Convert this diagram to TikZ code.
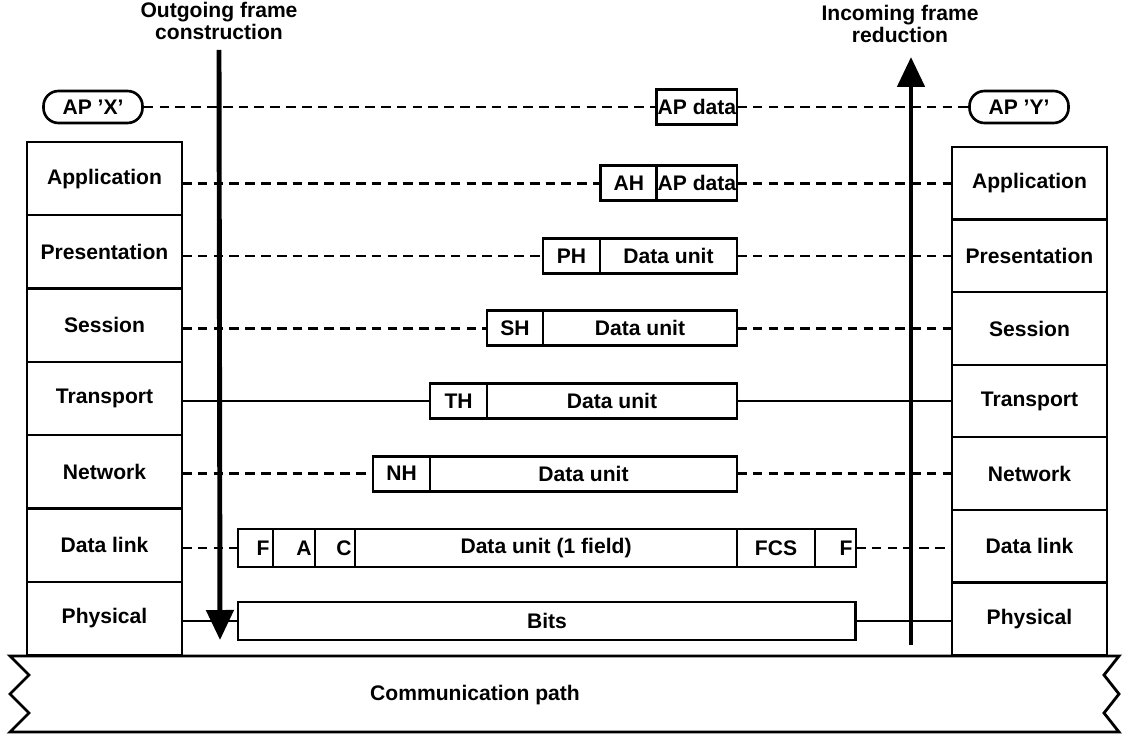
\documentclass[tikz,border=0pt]{standalone}
\usepackage{fontspec}
\setmainfont{Liberation Sans}
\usetikzlibrary{arrows.meta,positioning}

\begin{document}
\begin{tikzpicture}[
    x=0.02cm, y=-0.02cm,
    font=\fontsize{12}{14}\selectfont\bfseries,
    capa/.style={
      draw, line width=1.3pt, outer sep=0pt, inner sep=0pt,
      minimum width=3.1cm, minimum height=1.466cm
    },
    capad/.style={capa, minimum height=1.452cm},
    campo/.style={
      draw, line width=1.6pt, outer sep=0pt, inner xsep=1pt, inner ysep=0pt,
      minimum height=0.7cm
    },
    enlcampo/.style={campo, minimum height=0.76cm},
    cabder/.style={enlcampo, align=right, inner xsep=2pt},
    ap/.style={
      draw, line width=1.5pt, rounded corners=0.3cm,
      minimum width=1.98cm, minimum height=0.64cm, inner sep=0pt
    },
    enlace/.style={dash pattern=on 5.5pt off 3.5pt, line width=1.4pt},
    fisico/.style={line width=1pt},
    flecha/.style={line width=2.8pt, -{Triangle[width=0.54cm,length=0.6cm]}},
    etiq/.style={align=center, inner sep=0pt,
      font=\fontsize{12}{10.5}\selectfont\bfseries}
  ]
    \useasboundingbox (0,0) rectangle (1122,736);

    % --- Etiquetas superiores ---
    \node[etiq] (salida) at (219,21) {Outgoing frame\\construction};
    \node[etiq] (entrada) at (900,24) {Incoming frame\\reduction};

    % --- Pila izquierda ---
    \node[capa] (Lapp) at (104.5,178.7) {Application};
    \node[capa, below=0pt of Lapp] (Lpres) {Presentation};
    \node[capa, below=0pt of Lpres] (Lses) {Session};
    \node[capa, below=0pt of Lses] (Ltra) {Transport};
    \node[capa, below=0pt of Ltra] (Lred) {Network};
    \node[capa, below=0pt of Lred] (Lenl) {Data link};
    \node[capa, below=0pt of Lenl] (Lfis) {Physical};

    % --- Pila derecha ---
    \node[capad] (Rapp) at (1029.5,183.3) {Application};
    \node[capad, below=0pt of Rapp] (Rpres) {Presentation};
    \node[capad, below=0pt of Rpres] (Rses) {Session};
    \node[capad, below=0pt of Rses] (Rtra) {Transport};
    \node[capad, below=0pt of Rtra] (Rred) {Network};
    \node[capad, below=0pt of Rred] (Renl) {Data link};
    \node[capad, below=0pt of Renl] (Rfis) {Physical};

    % --- Procesos de aplicación ---
    \node[ap] (apx) at (93,107) {AP 'X'};
    \node[ap] (apy) at (1019,107) {AP 'Y'};

    % --- Unidades de datos ---
    \node[campo, anchor=east, inner xsep=0.5pt, minimum width=1.6cm] (apd0)
      at (737,107) {AP data};

    \node[campo, anchor=east, inner xsep=0.5pt, minimum width=1.6cm] (apd1)
      at (737,183.3) {AP data};
    \node[campo, left=0pt of apd1, minimum width=1.12cm] (ah) {AH};

    \node[campo, anchor=east, minimum width=2.74cm] (du2)
      at (737,255.9) {Data unit};
    \node[campo, left=0pt of du2, minimum width=1.14cm] (ph) {PH};

    \node[campo, anchor=east, minimum width=3.88cm] (du3)
      at (737,328.4) {Data unit};
    \node[campo, left=0pt of du3, minimum width=1.12cm] (sh) {SH};

    \node[campo, anchor=east, minimum width=5cm] (du4)
      at (737,401) {Data unit};
    \node[campo, left=0pt of du4, minimum width=1.14cm] (th) {TH};

    \node[campo, anchor=east, minimum width=6.14cm] (du5)
      at (737,473.6) {Data unit};
    \node[campo, left=0pt of du5, minimum width=1.14cm] (nh) {NH};

    % --- Trama de enlace ---
    \node[enlcampo, anchor=east, minimum width=7.64cm] (du6)
      at (737,548) {Data unit (1 field)};
    \node[cabder, left=0pt of du6, text width=18.8pt] (ctl) {C};
    \node[cabder, left=0pt of ctl, text width=19.9pt] (dir) {A};
    \node[cabder, left=0pt of dir, text width=15.9pt] (fa) {F};
    \node[enlcampo, right=0pt of du6, minimum width=1.56cm] (fcs) {FCS};
    \node[cabder, right=0pt of fcs, text width=19.3pt] (fb) {F};

    \node[enlcampo, anchor=west, minimum width=12.36cm] (bits)
      at (238,621) {Bits};

    % --- Camino de comunicación ---
    \draw[line width=1.6pt] (10,656) -- (1119,656) -- (1104,675) -- (1119,694)
      -- (1104,713) -- (1119,732) -- (10,732) -- (29,713) -- (10,694)
      -- (29,675) -- cycle;
    \node (camino) at (475,695) {Communication path};

    % --- Enlaces entre pares ---
    \draw[enlace] (apx.east) -- (apd0.west);
    \draw[enlace] (apd0.east) -- (apy.west);
    \draw[enlace] (Lapp.east |- ah.west) -- (ah.west);
    \draw[enlace] (apd1.east) -- (Rapp.west |- apd1.east);
    \draw[enlace] (Lpres.east |- ph.west) -- (ph.west);
    \draw[enlace] (du2.east) -- (Rpres.west |- du2.east);
    \draw[enlace] (Lses.east |- sh.west) -- (sh.west);
    \draw[enlace] (du3.east) -- (Rses.west |- du3.east);
    \draw[fisico] (Ltra.east |- th.west) -- (th.west);
    \draw[fisico] (du4.east) -- (Rtra.west |- du4.east);
    \draw[enlace] (Lred.east |- nh.west) -- (nh.west);
    \draw[enlace] (du5.east) -- (Rred.west |- du5.east);
    \draw[enlace] (Lenl.east |- fa.west) -- (fa.west);
    \draw[enlace] (fb.east) -- (Renl.west |- fb.east);
    \draw[fisico] (Lfis.east |- bits.west) -- (bits.west);
    \draw[fisico] (bits.east) -- (Rfis.west |- bits.east);

    % --- Flechas ---
    \coordinate (bajaini) at (219,50);
    \coordinate (bajafin) at (220,640);
    \coordinate (subeini) at (911,645);
    \coordinate (subefin) at (911,57);
    \draw[flecha] (bajaini) -- (bajafin);
    \draw[flecha] (subeini) -- (subefin);
\end{tikzpicture}
\end{document}
